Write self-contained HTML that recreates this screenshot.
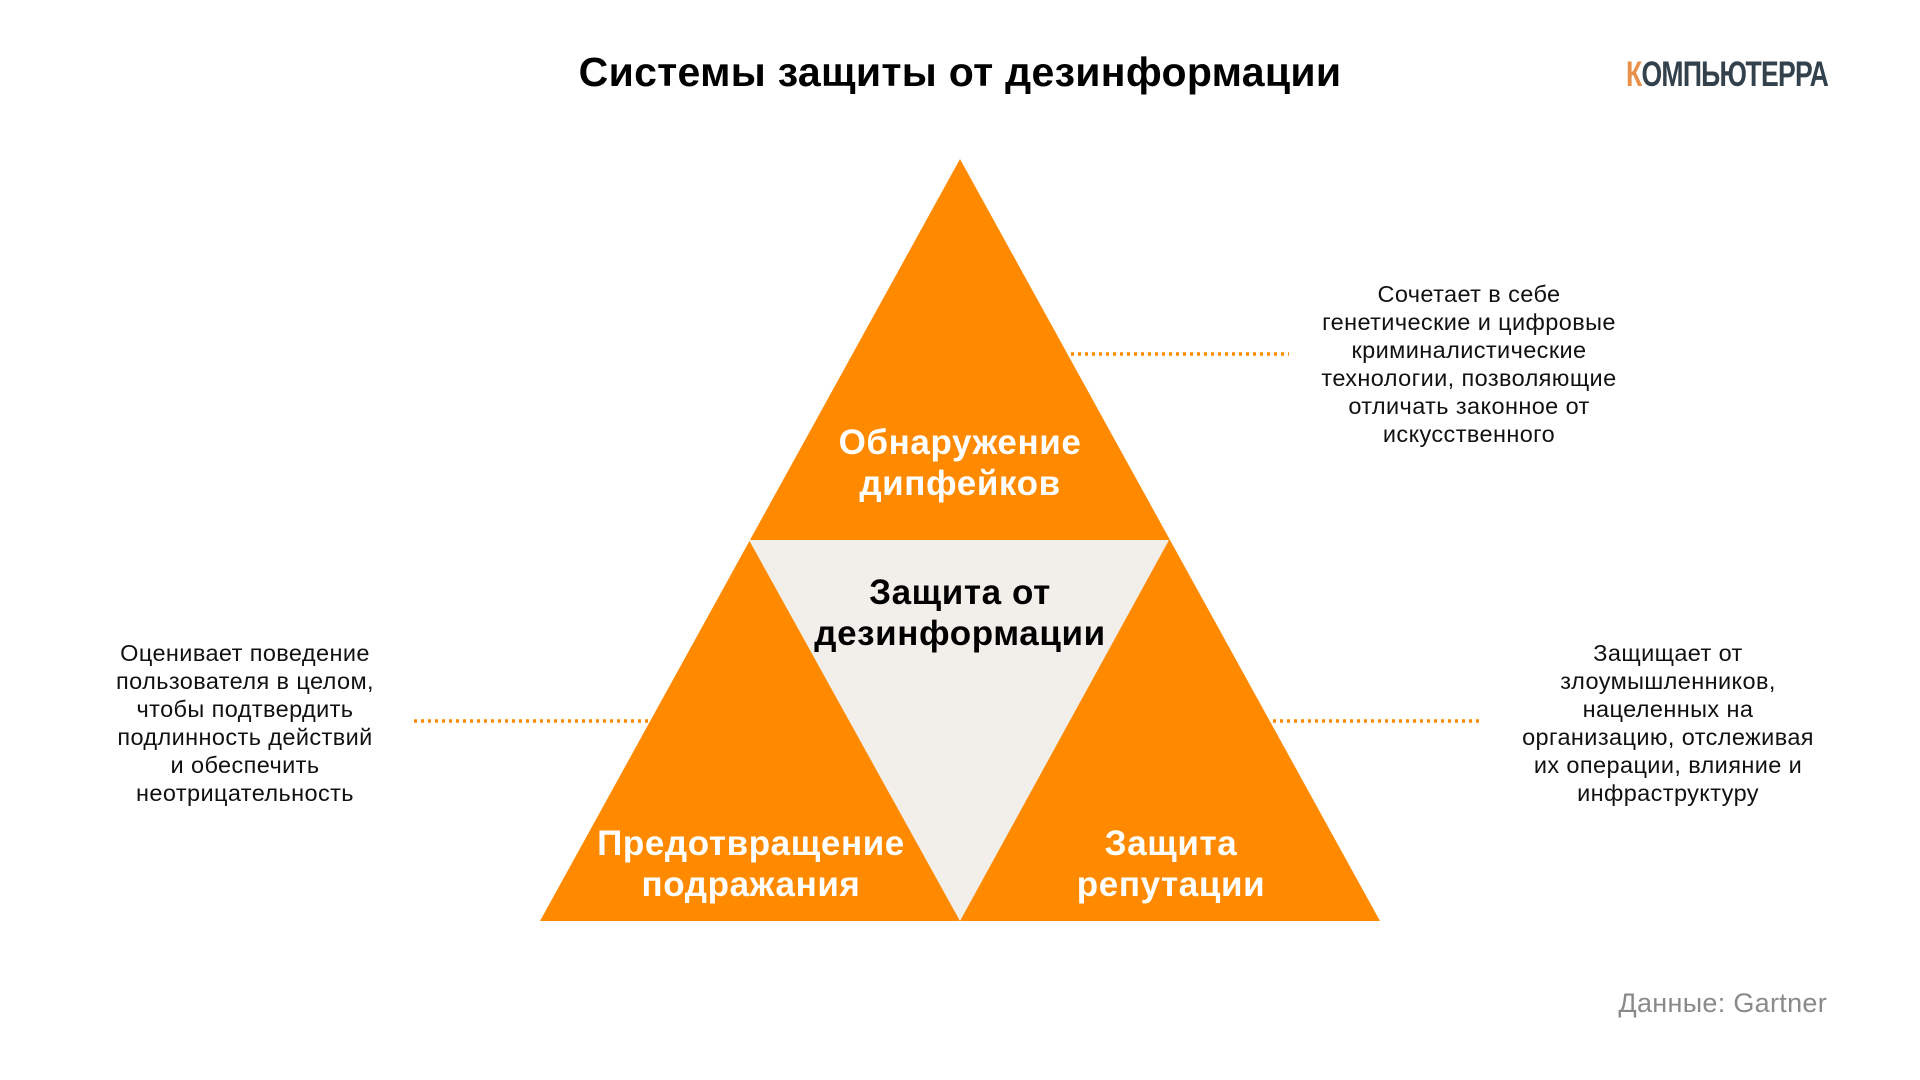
<!DOCTYPE html>
<html><head><meta charset="utf-8"><style>
html,body{margin:0;padding:0;width:1920px;height:1080px;background:#fff;overflow:hidden;font-family:"Liberation Sans","DejaVu Sans",sans-serif}
.t{position:absolute;text-align:center}
.desc{font-size:23.5px;line-height:28px;color:#111;letter-spacing:0.4px}
.lb{font-size:35px;line-height:41px;font-weight:bold;letter-spacing:0.6px}
</style></head><body>
<svg width="1920" height="1080" style="position:absolute;left:0;top:0">
<polygon points="960,159 1380,921 540,921" fill="#FF8A00"/>
<polygon points="749,540 1169,540 960,921" fill="#F2EFEA"/>
<g stroke="#FF8A00" stroke-width="3.5" stroke-dasharray="3 4">
<line x1="1071" y1="354" x2="1289" y2="354"/>
<line x1="414" y1="721" x2="649" y2="721"/>
<line x1="1273" y1="721" x2="1482" y2="721"/>
</g>
</svg>
<div class="t" style="left:410px;top:49px;width:1100px;font-size:41px;font-weight:bold;color:#000;letter-spacing:0.3px">Системы защиты от дезинформации</div>
<div class="t" style="left:1626px;top:55px;font-size:35px;font-weight:bold;color:#33414c;transform:scaleX(0.76);transform-origin:left top;letter-spacing:-1px;text-align:left;white-space:nowrap"><span style="color:#e8914a">К</span>ОМПЬЮТЕРРА</div>
<div class="t lb" style="left:710px;top:422px;width:500px;color:#fff">Обнаружение<br>дипфейков</div>
<div class="t lb" style="left:710px;top:572px;width:500px;color:#000">Защита от<br>дезинформации</div>
<div class="t lb" style="left:501px;top:823px;width:500px;color:#fff">Предотвращение<br>подражания</div>
<div class="t lb" style="left:921px;top:823px;width:500px;color:#fff">Защита<br>репутации</div>
<div class="t desc" style="left:1269px;top:280px;width:400px">Сочетает в себе<br>генетические и цифровые<br>криминалистические<br>технологии, позволяющие<br>отличать законное от<br>искусственного</div>
<div class="t desc" style="left:45px;top:639px;width:400px">Оценивает поведение<br>пользователя в целом,<br>чтобы подтвердить<br>подлинность действий<br>и обеспечить<br>неотрицательность</div>
<div class="t desc" style="left:1468px;top:639px;width:400px">Защищает от<br>злоумышленников,<br>нацеленных на<br>организацию, отслеживая<br>их операции, влияние и<br>инфраструктуру</div>
<div class="t" style="left:1500px;top:988px;width:327px;text-align:right;font-size:27px;color:#8a8a8a;letter-spacing:0.3px">Данные: Gartner</div>
</body></html>
